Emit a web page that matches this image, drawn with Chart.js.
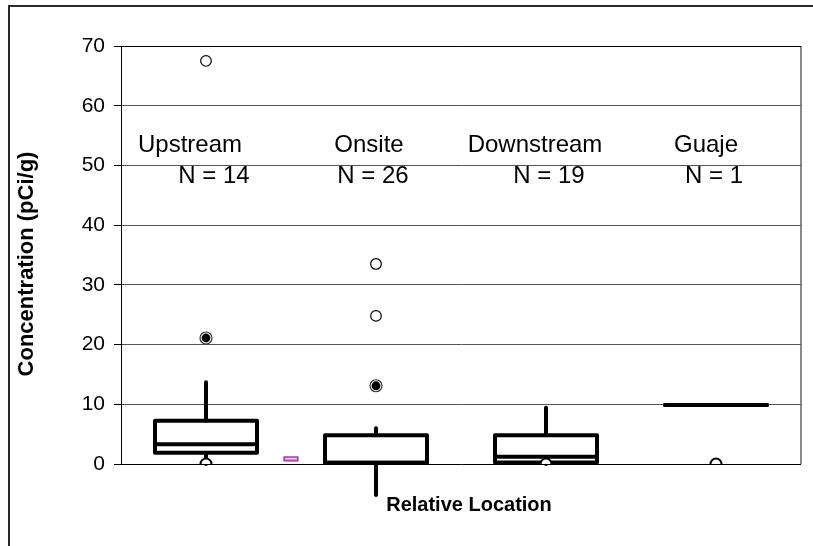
<!DOCTYPE html>
<html>
<head>
<meta charset="utf-8">
<script src="https://cdn.jsdelivr.net/npm/chart.js@4.4.1/dist/chart.umd.min.js"></script>
<style>
  html, body { margin: 0; padding: 0; background: #fff; }
  #wrap { width: 813px; height: 546px; }
</style>
</head>
<body>
<div id="wrap"><canvas id="c" width="813" height="546"></canvas></div>
<script>
// Sampling locations and number of samples at each
const locations = ['Upstream', 'Onsite', 'Downstream', 'Guaje'];
const sampleCounts = [14, 26, 19, 1];

// Box statistics (pCi/g)
const whiskerLow  = [0,    -5.2, 0,    9.9];
const q1          = [1.9,  0.2,  0.25, 9.9];
const median      = [3.3,  0.2,  1.2,  9.9];
const q3          = [7.25, 4.8,  4.8,  9.9];
const whiskerHigh = [13.7, 6.0,  9.4,  9.9];

// Outliers (open circles)
const outlierLoc = [0, 1, 1];
const outlierVal = [67.5, 33.5, 24.8];

// Extreme values (filled circles)
const extremeLoc = [0, 1];
const extremeVal = [21.1, 13.1];

// Minimum markers
const minLoc = [0, 2, 3];
const minVal = [0, 0, 0];

// Small marker between the first two groups
const markerLoc = [0.5];
const markerVal = [0.9];

// Axis ticks
const yTicks = [0, 10, 20, 30, 40, 50, 60, 70];

const FONT = "'Liberation Sans', Arial, sans-serif";

const pts = (xs, ys) => xs.map((x, i) => ({ x: x, y: ys[i] }));

// Purple marker image
const marker = document.createElement('canvas');
marker.width = 16; marker.height = 6;
(() => {
  const g = marker.getContext('2d');
  g.fillStyle = '#ecd2ec';
  g.fillRect(1, 1, 14, 4);
  g.strokeStyle = '#9a2f9a';
  g.lineWidth = 1.6;
  g.strokeRect(1.25, 1.25, 13.5, 3.5);
})();

const framePlugin = {
  id: 'frame',
  beforeDraw(chart) {
    const ctx = chart.ctx;
    const a = chart.chartArea;
    ctx.save();
    ctx.strokeStyle = '#2a2a2a';
    ctx.lineWidth = 2;
    ctx.beginPath();
    ctx.moveTo(9, 546);
    ctx.lineTo(9, 6);
    ctx.lineTo(813, 6);
    ctx.stroke();
    ctx.strokeStyle = '#8a8a8a';
    ctx.lineWidth = 2;
    ctx.beginPath();
    ctx.moveTo(a.right, a.top);
    ctx.lineTo(a.right, a.bottom);
    ctx.stroke();
    ctx.restore();
  }
};

const boxPlugin = {
  id: 'boxes',
  beforeDatasetsDraw(chart, args, opts) {
    const ctx = chart.ctx;
    const xs = chart.scales.x, ys = chart.scales.y;
    const step = xs.getPixelForValue(1) - xs.getPixelForValue(0);
    const half = step * opts.widthRatio / 2;
    ctx.save();
    ctx.strokeStyle = '#000';
    ctx.lineWidth = 4;
    ctx.lineJoin = 'round';
    ctx.lineCap = 'round';
    locations.forEach((_, i) => {
      const xc = xs.getPixelForValue(i);
      const yLo = ys.getPixelForValue(whiskerLow[i]);
      const yQ1 = ys.getPixelForValue(q1[i]);
      const yMd = ys.getPixelForValue(median[i]);
      const yQ3 = ys.getPixelForValue(q3[i]);
      const yHi = ys.getPixelForValue(whiskerHigh[i]);
      ctx.beginPath();
      ctx.moveTo(xc, yQ3); ctx.lineTo(xc, yHi);
      ctx.moveTo(xc, yQ1); ctx.lineTo(xc, yLo);
      ctx.stroke();
      ctx.beginPath();
      ctx.rect(xc - half, yQ3, half * 2, yQ1 - yQ3);
      ctx.stroke();
      ctx.beginPath();
      ctx.moveTo(xc - half, yMd); ctx.lineTo(xc + half, yMd);
      ctx.stroke();
    });
    ctx.restore();
  },
  afterDatasetsDraw(chart, args, opts) {
    const ctx = chart.ctx;
    const xs = chart.scales.x, ys = chart.scales.y;
    const a = chart.chartArea;
    ctx.save();
    ctx.fillStyle = '#000';
    ctx.textAlign = 'center';
    ctx.textBaseline = 'middle';
    ctx.font = opts.labelSize + 'px ' + FONT;
    locations.forEach((name, i) => {
      const xc = xs.getPixelForValue(i);
      ctx.fillText(name, xc + opts.nameShift[i], ys.getPixelForValue(opts.nameLevel));
      ctx.fillText('N = ' + sampleCounts[i], xc + opts.countShift[i], ys.getPixelForValue(opts.countLevel));
    });
    // axis titles
    ctx.font = 'bold ' + opts.titleSize + 'px ' + FONT;
    ctx.fillText('Relative Location', (a.left + a.right) / 2 + 8, a.bottom + 41);
    ctx.font = 'bold ' + opts.yTitleSize + 'px ' + FONT;
    ctx.translate(27, (a.top + a.bottom) / 2 + 9);
    ctx.rotate(-Math.PI / 2);
    ctx.fillText('Concentration (pCi/g)', 0, 0);
    ctx.restore();
  }
};

new Chart(document.getElementById('c'), {
  type: 'scatter',
  data: {
    datasets: [
      {
        data: pts(outlierLoc, outlierVal),
        pointStyle: 'circle', pointRadius: 5.3, borderWidth: 1.2,
        borderColor: '#000', backgroundColor: '#fff'
      },
      {
        // filled centre of the extreme markers (drawn above the ring)
        data: pts(extremeLoc, extremeVal),
        pointStyle: 'circle', pointRadius: 4.4, borderWidth: 0,
        borderColor: '#000', backgroundColor: '#000'
      },
      {
        // outer ring of the extreme markers
        data: pts(extremeLoc, extremeVal),
        pointStyle: 'circle', pointRadius: 6, borderWidth: 1.2,
        borderColor: '#333', backgroundColor: '#fff'
      },
      {
        data: pts(minLoc, minVal),
        pointStyle: 'circle', pointRadius: 5.5, borderWidth: 2,
        borderColor: '#000', backgroundColor: '#fff'
      },
      {
        data: pts(markerLoc, markerVal),
        pointStyle: marker, pointRadius: 6
      }
    ]
  },
  options: {
    responsive: false,
    animation: false,
    devicePixelRatio: 1,
    layout: { padding: { left: 0, right: 12, top: 46, bottom: 82 } },
    plugins: {
      legend: { display: false },
      tooltip: { enabled: false },
      boxes: {
        widthRatio: 0.6,
        labelSize: 24,
        titleSize: 20,
        yTitleSize: 22,
        nameLevel: 53.4,
        countLevel: 48.2,
        nameShift: [-16, -7, -11, -10],
        countShift: [8, -3, 3, -2]
      }
    },
    scales: {
      x: {
        type: 'linear', min: -0.5, max: 3.5, display: false
      },
      y: {
        type: 'linear', min: 0, max: 70,
        afterFit(scale) { scale.width = 121; },
        afterBuildTicks(scale) { scale.ticks = yTicks.map(v => ({ value: v })); },
        ticks: {
          color: '#000', padding: 9,
          font: { family: FONT, size: 21 }
        },
        grid: {
          color: ctx => (ctx.tick && (ctx.tick.value === 0 || ctx.tick.value === 70)) ? '#000' : '#555',
          lineWidth: 1, tickColor: '#000', tickLength: 7
        },
        border: { display: true, color: '#000', width: 1 },
        title: { display: false }
      }
    }
  },
  plugins: [framePlugin, boxPlugin]
});
</script>
</body>
</html>
